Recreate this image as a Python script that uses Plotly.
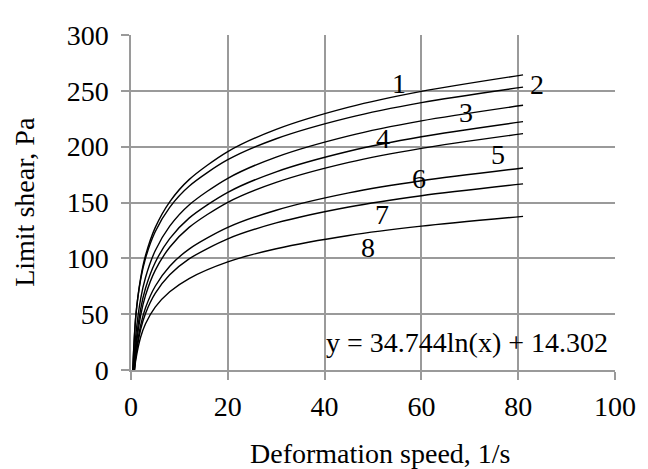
import plotly.graph_objects as go

# shared deformation-speed sample points (1/s)
x_common = [1, 2, 3, 5, 8, 12, 20, 30, 45, 60, 81]
# starting speed of each curve (where limit shear is 0)
x_start = [0.37, 0.35, 0.51, 0.60, 0.66, 0.69, 0.71, 0.73]

curve_names = ["1", "2", "3", "4", "5", "6", "7", "8"]
c1 = [48.5, 82.5, 102.5, 127.5, 150.6, 170.5, 195.6, 215.5, 235.4, 249.5, 264.3]
c2 = [49.0, 81.2, 100.1, 123.8, 145.7, 164.6, 188.3, 207.1, 226.0, 239.4, 253.3]
c3 = [31.5, 63.9, 82.9, 106.8, 128.8, 147.8, 171.7, 190.7, 209.7, 223.1, 237.1]
c4 = [23.4, 54.8, 73.2, 96.3, 117.6, 136.0, 159.1, 177.5, 195.9, 208.9, 222.4]
c5 = [18.4, 48.9, 66.8, 89.2, 109.9, 127.7, 150.2, 168.0, 185.9, 198.5, 211.7]
c6 = [13.9, 40.2, 55.7, 75.0, 92.9, 108.3, 127.7, 143.1, 158.6, 169.5, 180.9]
c7 = [12.0, 36.4, 50.7, 68.6, 85.2, 99.5, 117.5, 131.7, 146.0, 156.1, 166.7]
c8 = [9.3, 29.5, 41.4, 56.3, 70.0, 81.9, 96.8, 108.6, 120.5, 128.8, 137.6]
curves = [c1, c2, c3, c4, c5, c6, c7, c8]

# label positions for the curve numbers
label_x = [55.3, 83.9, 69.2, 52.0, 75.9, 59.6, 51.9, 48.9]
label_y = [257, 256, 230.8, 207, 193, 171.4, 139.4, 109.4]

equation_text = "y = 34.744ln(x) + 14.302"
eq_x, eq_y = 69.5, 25

x_ticks = [0, 20, 40, 60, 80, 100]
y_ticks = [0, 50, 100, 150, 200, 250, 300]

FONT = "Liberation Serif, Times New Roman, serif"
FS = 28
GRID = "#9a9a9a"

fig = go.Figure()
for xs, ys in zip(x_start, curves):
    fig.add_trace(go.Scatter(
        x=[xs] + x_common, y=[0] + ys, mode="lines",
        line=dict(color="black", width=1.4, shape="spline", smoothing=0.8),
        showlegend=False, hoverinfo="skip"))

annotations = []
for name, lx, ly in zip(curve_names, label_x, label_y):
    annotations.append(dict(x=lx, y=ly, xref="x", yref="y", text=name,
                            showarrow=False, font=dict(family=FONT, size=FS, color="black")))
annotations.append(dict(x=eq_x, y=eq_y, xref="x", yref="y", text=equation_text,
                        showarrow=False, font=dict(family=FONT, size=FS, color="black")))
annotations.append(dict(x=0.516, y=-0.249, xref="paper", yref="paper",
                        text="Deformation speed, 1/s", showarrow=False,
                        xanchor="center", yanchor="middle",
                        font=dict(family=FONT, size=FS, color="black")))
annotations.append(dict(x=-0.219, y=0.502, xref="paper", yref="paper",
                        text="Limit shear, Pa", showarrow=False, textangle=-90,
                        xanchor="center", yanchor="middle", borderpad=0,
                        font=dict(family=FONT, size=FS, color="black")))

# page body has an 8px margin, so the figure is 8px smaller and margins shifted
fig.update_layout(
    width=640, height=461,
    margin=dict(l=123, r=21, t=19, b=99),
    paper_bgcolor="white", plot_bgcolor="white",
    font=dict(family=FONT, size=FS, color="black"),
    annotations=annotations,
    showlegend=False,
)
fig.update_xaxes(range=[0, 100], tickvals=x_ticks, showgrid=True, gridcolor=GRID,
                 gridwidth=1.5, zeroline=False, showline=True, linecolor=GRID, linewidth=1.5,
                 ticks="outside", ticklen=8, tickcolor=GRID, tickwidth=1.5,
                 ticklabelstandoff=3, mirror=False,
                 tickfont=dict(family=FONT, size=FS, color="black"))
fig.update_yaxes(range=[0, 300], tickvals=y_ticks, showgrid=True, gridcolor=GRID,
                 gridwidth=1.5, zeroline=False, showline=True, linecolor=GRID, linewidth=1.5,
                 ticks="outside", ticklen=8, tickcolor=GRID, tickwidth=1.5,
                 ticklabelstandoff=7,
                 tickfont=dict(family=FONT, size=FS, color="black"))

fig.write_html("out.html")
